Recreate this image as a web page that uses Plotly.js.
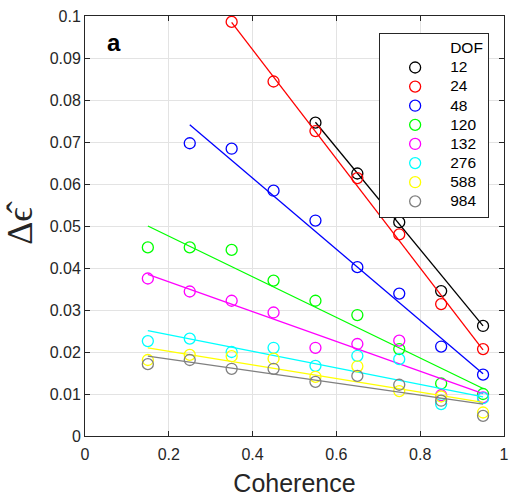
<!DOCTYPE html>
<html>
<head>
<meta charset="utf-8">
<script src="https://cdn.plot.ly/plotly-3.0.1.min.js"></script>
<style>html,body{margin:0;padding:0;background:#fff;}#chart{width:509px;height:501px;}</style>
</head>
<body>
<div id="chart"></div>
<script>
var dofLabels = ['12','24','48','120','132','276','588','984'];
var colors = ['#000000','#ff0000','#0000ff','#00ff00','#ff00ff','#00ffff','#ffff00','#808080'];
var coherence = [0.15,0.25,0.35,0.45,0.55,0.65,0.75,0.85,0.95];

var dof12  = [null,null,null,null,0.0746,0.0625,0.0509,0.0345,0.0262];
var dof24  = [null,null,0.0986,0.0844,0.0726,0.0614,0.0480,0.0314,0.0207];
var dof48  = [null,0.0697,0.0684,0.0584,0.0513,0.0402,0.0339,0.0213,0.0146];
var dof120 = [0.0449,0.0449,0.0443,0.0370,0.0322,0.0288,0.0207,0.0125,0.0100];
var dof132 = [0.0375,0.0344,0.0322,0.0294,0.0210,0.0219,0.0227,0.0097,0.0092];
var dof276 = [0.0226,0.0232,0.0200,0.0210,0.0167,0.0191,0.0183,0.0076,0.0090];
var dof588 = [0.0181,0.0193,0.0190,0.0184,0.0141,0.0166,0.0107,0.0094,0.0056];
var dof984 = [0.0171,0.0181,0.0160,0.0160,0.0129,0.0143,0.0122,0.0084,0.0048];
var series = [dof12,dof24,dof48,dof120,dof132,dof276,dof588,dof984];

// fitted line endpoints
var fitX0 = [0.55,0.35,0.25,0.15,0.15,0.15,0.15,0.15];
var fitX1 = [0.95,0.95,0.95,0.95,0.95,0.95,0.95,0.95];
var fitY0 = [0.0747,0.0985,0.0741,0.0500,0.0385,0.0251,0.0210,0.0190];
var fitY1 = [0.0262,0.0205,0.0148,0.0113,0.0101,0.0093,0.0080,0.0076];

function lbl(t){ return '<span style="font-size:15.5px">' + t + '</span>'; }

var traces = [];
traces.push({x:[null],y:[null],mode:'markers',name:lbl('DOF'),
  marker:{color:'rgba(0,0,0,0)',size:1,line:{width:0,color:'rgba(0,0,0,0)'}},showlegend:true,hoverinfo:'skip'});
for (var i=0;i<series.length;i++){
  traces.push({x:[fitX0[i],fitX1[i]],y:[fitY0[i],fitY1[i]],mode:'lines',line:{color:colors[i],width:1.3},showlegend:false,hoverinfo:'skip'});
  traces.push({x:coherence,y:series[i],mode:'markers',name:lbl(dofLabels[i]),
    marker:{symbol:'circle-open',size:11,color:colors[i],line:{width:1.3,color:colors[i]}}});
}

var axisCommon = {
  showline:true, mirror:'ticks', linecolor:'#262626', linewidth:1,
  ticks:'inside', ticklen:5, tickcolor:'#262626',
  showgrid:true, gridcolor:'#e3e3e3', gridwidth:1, zeroline:false,
  tickfont:{family:'Liberation Sans, Arial, sans-serif', size:16, color:'#262626'}
};

var layout = {
  width:509, height:501,
  margin:{l:85,r:5,t:16,b:65},
  paper_bgcolor:'#fff', plot_bgcolor:'#fff',
  showlegend:true,
  xaxis: Object.assign({}, axisCommon, {range:[0,1], tickvals:[0,0.2,0.4,0.6,0.8,1], ticktext:['0','0.2','0.4','0.6','0.8','1'],
    ticklabelstandoff:4,
    title:{text:'Coherence', font:{family:'Liberation Sans, Arial, sans-serif', size:25, color:'#262626'}, standoff:12}}),
  yaxis: Object.assign({}, axisCommon, {range:[0,0.1], tickvals:[0,0.01,0.02,0.03,0.04,0.05,0.06,0.07,0.08,0.09,0.1],
    ticktext:['0','0.01','0.02','0.03','0.04','0.05','0.06','0.07','0.08','0.09','0.1'],
    title:{text:'\u0394\u03f5\u0302', font:{family:'Liberation Serif, serif', size:36, color:'#262626'}, standoff:12}}),
  legend:{x:0.702, y:0.96, xanchor:'left', yanchor:'top', bgcolor:'#fff', bordercolor:'#262626', borderwidth:1,
    font:{family:'Liberation Sans, Arial, sans-serif', size:12.4, color:'#000'}, itemwidth:60, tracegroupgap:0},
  annotations:[{xref:'paper',yref:'paper',x:0.047,y:0.975,xanchor:'left',yanchor:'top',text:'<b>a</b>',showarrow:false,
    font:{family:'Liberation Sans, Arial, sans-serif',size:24,color:'#000'}}]
};

Plotly.newPlot('chart', traces, layout, {displayModeBar:false, staticPlot:true});
</script>
</body>
</html>
